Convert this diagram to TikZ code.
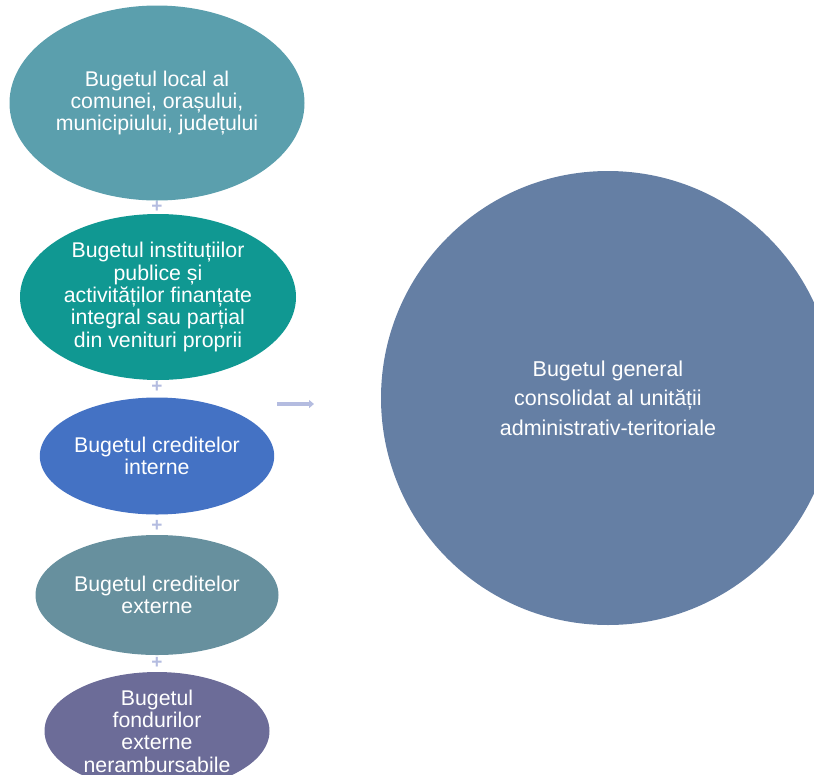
\documentclass[tikz,border=0pt]{standalone}
\usepackage{fontspec}
\setmainfont{Liberation Sans}
\usetikzlibrary{arrows.meta,shapes.geometric}
\definecolor{cA}{RGB}{91,159,173}
\definecolor{cB}{RGB}{16,152,146}
\definecolor{cC}{RGB}{68,114,196}
\definecolor{cD}{RGB}{103,144,158}
\definecolor{cE}{RGB}{108,108,152}
\definecolor{cBig}{RGB}{101,127,164}
\definecolor{cPlus}{RGB}{180,188,224}
\tikzset{
  oval/.style={ellipse, draw=none, text=white, align=center,
    font=\fontsize{21.3}{22.3}\selectfont, inner sep=0pt},
  plussign/.style={text=cPlus, font=\fontsize{19}{19}\selectfont\bfseries, inner sep=0pt},
}
\begin{document}
\begin{tikzpicture}[x=1pt,y=-1pt]
\useasboundingbox (0,0) rectangle (814,774);
\clip (0,0) rectangle (814,774);
\node[oval, fill=cA, minimum width=295, minimum height=195] (e1) at (157,103) {Bugetul local al\\comunei, orașului,\\municipiului, județului};
\node[oval, fill=cB, minimum width=276, minimum height=166] (e2) at (158,297) {Bugetul instituțiilor\\publice și\\activităților finanțate\\integral sau parțial\\din venituri proprii};
\node[oval, fill=cC, minimum width=230, minimum height=117] (e3) at (157,456) {Bugetul creditelor\\interne};
\node[oval, fill=cD, minimum width=243, minimum height=120] (e4) at (157,595) {Bugetul creditelor\\externe};
\node[oval, fill=cE, minimum width=225, minimum height=118] (e5) at (157,731) {Bugetul\\fondurilor\\externe\\nerambursabile};
\node[circle, fill=cBig, minimum size=454, inner sep=0pt, text=white, align=center,
  font=\fontsize{21.5}{29.5}\selectfont] (big) at (608,398) {Bugetul general\\consolidat al unității\\administrativ-teritoriale};
\node[plussign] (p1) at (157,207) {+};
\node[plussign] (p2) at (157,387) {+};
\node[plussign] (p3) at (157,526) {+};
\node[plussign] (p4) at (157,663) {+};
\coordinate (a1) at (277,404);
\coordinate (a2) at (314,404);
\draw[cPlus, line width=3.5pt, -{Triangle[length=5pt,width=8pt]}] (a1) -- (a2);
\end{tikzpicture}
\end{document}
